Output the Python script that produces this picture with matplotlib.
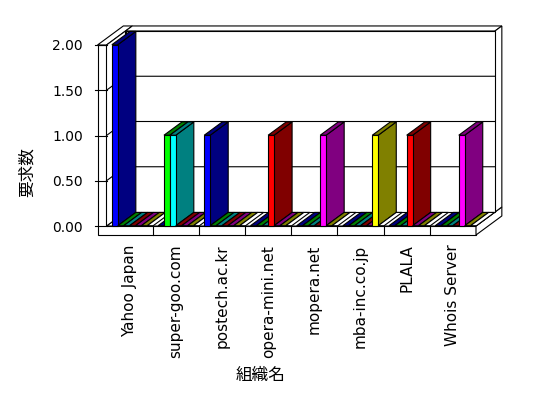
import matplotlib
matplotlib.use("Agg")
import matplotlib.pyplot as plt
from matplotlib.patches import Polygon

plt.rcParams["font.family"] = ["DejaVu Sans", "Noto Sans CJK JP"]

categories = ["Yahoo Japan", "super-goo.com", "postech.ac.kr", "opera-mini.net",
              "mopera.net", "mba-inc.co.jp", "PLALA", "Whois Server"]
# one list per series, values per category
series_values = [
    [2, 0, 1, 0, 0, 0, 0, 0],
    [0, 1, 0, 0, 0, 0, 0, 0],
    [0, 1, 0, 0, 0, 0, 0, 0],
    [0, 0, 0, 1, 0, 0, 1, 0],
    [0, 0, 0, 0, 1, 0, 0, 1],
    [0, 0, 0, 0, 0, 1, 0, 0],
    [0, 0, 0, 0, 0, 0, 0, 0],
]
front_colors = ["#0000ff", "#00ff00", "#00ffff", "#ff0000", "#ff00ff", "#ffff00", "#ffffff"]
dark_colors = ["#000080", "#008000", "#008080", "#800000", "#800080", "#808000", "#ffffff"]
y_ticks = [0.0, 0.5, 1.0, 1.5, 2.0]
y_label = "要求数"
x_label = "組織名"

W, H = 548, 398
fig = plt.figure(figsize=(W / 100, H / 100), dpi=100)
fig.patch.set_facecolor("white")

# front plane of the plot: pixel box
px_left, px_right, px_bottom, px_top = 106.5, 476.0, 226.0, 45.0
ax = fig.add_axes([px_left / W, 1 - px_bottom / H,
                   (px_right - px_left) / W, (px_bottom - px_top) / H])
ncat = len(categories)
ymax = 2.0
ax.set_xlim(0, ncat)
ax.set_ylim(0, ymax)
for s in ax.spines.values():
    s.set_visible(False)

cat_px = (px_right - px_left) / ncat
val_px = (px_bottom - px_top) / ymax
DX = 19 / cat_px      # depth offset in data units (full depth)
DY = 14 / val_px
WALL_X = 9 / cat_px   # left wall thickness
SLAB = 9 / val_px     # floor slab thickness
WB = 1.36             # back wall outer depth
LW = 0.8


def P(x, v, w):
    return (x + w * DX, v + w * DY)


def face(pts, fc, z=1):
    ax.add_patch(Polygon([P(*p) for p in pts], closed=True, facecolor=fc,
                         edgecolor="black", lw=LW, clip_on=False, zorder=z,
                         joinstyle="miter"))


# left wall + floor slab front
face([(-WALL_X, ymax, 0), (0, ymax, 0), (0, 0, 0), (ncat, 0, 0),
      (ncat, -SLAB, 0), (-WALL_X, -SLAB, 0)], "white")
# left wall top
face([(-WALL_X, ymax, 0), (0, ymax, 0), (0, ymax, WB), (-WALL_X, ymax, WB)], "white")
# floor slab right side
face([(ncat, 0, 0), (ncat, -SLAB, 0), (ncat, -SLAB, WB), (ncat, 0, WB)], "white")
# back wall top and right side
face([(0, ymax, 1), (ncat, ymax, 1), (ncat, ymax, WB), (0, ymax, WB)], "white")
face([(ncat, 0, 1), (ncat, ymax, 1), (ncat, ymax, WB), (ncat, 0, WB)], "white")
# floor top, left wall inner face, back wall face
face([(0, 0, 0), (ncat, 0, 0), (ncat, 0, 1), (0, 0, 1)], "white")
face([(0, 0, 0), (0, ymax, 0), (0, ymax, 1), (0, 0, 1)], "white")
face([(0, 0, 1), (ncat, 0, 1), (ncat, ymax, 1), (0, ymax, 1)], "white")

# gridlines on left wall and back wall, tick marks on wall front
for v in y_ticks[1:-1]:
    xs, ys = zip(P(0, v, 0), P(0, v, 1), P(ncat, v, 1))
    ax.plot(xs, ys, color="black", lw=LW, clip_on=False, zorder=1.5)
for v in y_ticks:
    ax.plot([-WALL_X - 3 / cat_px, 0], [v, v], color="black", lw=LW,
            clip_on=False, zorder=1.5)

# bars, drawn left to right so right-hand bars cover left sides
nser = len(series_values)
off = 5.0 / cat_px
bw = 5.9 / cat_px
wa, wb = 0.02, 0.97
z = 2
for i in range(ncat):
    for s in range(nser):
        h = series_values[s][i]
        x0 = i + off + s * bw
        x1 = x0 + bw
        if h > 0:
            face([(x1, 0, wa), (x1, h, wa), (x1, h, wb), (x1, 0, wb)], dark_colors[s], z)
            face([(x0, 0, wa), (x1, 0, wa), (x1, h, wa), (x0, h, wa)], front_colors[s], z + 0.1)
        face([(x0, h, wa), (x1, h, wa), (x1, h, wb), (x0, h, wb)], dark_colors[s], z + 0.2)
        z += 0.3

# category separators on the slab front
for i in range(1, ncat):
    ax.plot([i, i], [0, -SLAB], color="black", lw=LW, clip_on=False, zorder=z + 1)

ax.set_yticks(y_ticks)
ax.set_yticklabels([f"{v:.2f}" for v in y_ticks], fontsize=10)
ax.set_xticks([i + 0.5 for i in range(ncat)])
ax.set_xticklabels(categories, rotation=90, fontsize=11, va="top", ha="center")
ax.tick_params(axis="y", length=0, pad=17)
ax.tick_params(axis="x", length=0, pad=13.5)

fig.text(27 / W, 1 - 172 / H, y_label, rotation=90, ha="center", va="center", fontsize=12)
fig.text(261 / W, 1 - 375 / H, x_label, ha="center", va="center", fontsize=12)

fig.savefig("out.png", dpi=100)
